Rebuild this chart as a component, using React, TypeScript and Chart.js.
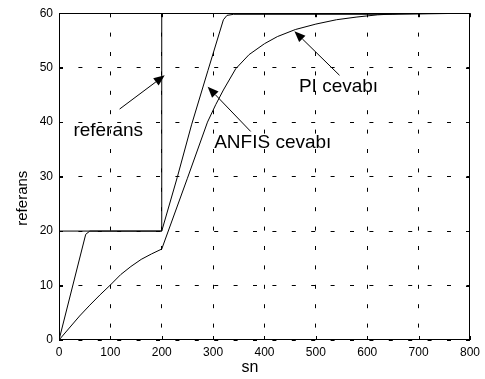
import { useEffect, useRef } from "react";
import { Chart, registerables } from "chart.js";

Chart.register(...registerables);

// ---- data ----
const refTime = [0, 200, 200, 800];
const refValue = [20, 20, 60, 60];

const anfisTime = [0, 52, 60, 200, 230, 258, 290, 320, 327, 340, 650, 800];
const anfisValue = [0, 19.4, 20, 20, 29.8, 39.5, 49.5, 58.8, 59.6, 59.8, 59.8, 60];

const piTime = [0, 20, 40, 60, 80, 100, 120, 140, 160, 180, 200, 250, 289, 305, 320, 344, 370, 400, 425, 460, 500, 540, 580, 620, 660, 800];
const piValue = [0, 2.2, 4.4, 6.4, 8.3, 10.1, 12.0, 13.5, 14.8, 15.8, 16.7, 29.7, 40, 43.2, 45.9, 49.8, 52.4, 54.4, 55.7, 57, 58, 58.8, 59.3, 59.7, 59.9, 60];

const xTicks = [0, 100, 200, 300, 400, 500, 600, 700, 800];
const yTicks = [0, 10, 20, 30, 40, 50, 60];

const xTitle = "sn";
const yTitle = "referans";

// annotations in data coordinates: text anchor (left, baseline), arrow tail -> head
const annLabels = ["referans", "ANFIS cevabı", "PI cevabı"];
const annTextX = [28, 302, 467];
const annTextY = [37.4, 35.3, 45.5];
const annTailX = [118, 373, 546];
const annTailY = [42.4, 38.3, 48.6];
const annHeadX = [205.8, 289.4, 458.3];
const annHeadY = [48.6, 46.5, 56.7];

const FONT = '"Liberation Sans", Arial, Helvetica, sans-serif';

const toXY = (xs: number[], ys: number[]) => xs.map((x, i) => ({ x, y: ys[i] }));

const decorPlugin = {
  id: "decor",
  afterDraw(chart: any) {
    const { ctx, chartArea: a, scales } = chart;
    const xs = scales.x;
    const ys = scales.y;
    ctx.save();
    // box
    ctx.strokeStyle = "#000";
    ctx.lineWidth = 1;
    ctx.setLineDash([]);
    ctx.strokeRect(Math.round(a.left) + 0.5, Math.round(a.top) + 0.5, Math.round(a.right - a.left) - 1, Math.round(a.bottom - a.top) - 1);
    // inward ticks
    const tl = 4;
    ctx.beginPath();
    xTicks.forEach((v) => {
      const px = Math.round(xs.getPixelForValue(v)) + 0.5;
      ctx.moveTo(px, a.bottom);
      ctx.lineTo(px, a.bottom - tl);
      ctx.moveTo(px, a.top);
      ctx.lineTo(px, a.top + tl);
    });
    yTicks.forEach((v) => {
      const py = Math.round(ys.getPixelForValue(v)) + 0.5;
      ctx.moveTo(a.left, py);
      ctx.lineTo(a.left + tl, py);
      ctx.moveTo(a.right, py);
      ctx.lineTo(a.right - tl, py);
    });
    ctx.stroke();

    // axis titles
    ctx.fillStyle = "#000";
    ctx.font = `16px ${FONT}`;
    ctx.textAlign = "center";
    ctx.textBaseline = "middle";
    ctx.fillText(xTitle, a.left + 191, a.bottom + 28);
    ctx.save();
    ctx.translate(a.left - 36.5, a.top + 185);
    ctx.rotate(-Math.PI / 2);
    ctx.font = `15px ${FONT}`;
    ctx.fillText(yTitle, 0, 0);
    ctx.restore();

    // annotations
    ctx.font = `19px ${FONT}`;
    ctx.textAlign = "left";
    ctx.textBaseline = "alphabetic";
    annLabels.forEach((label, i) => {
      const tx = xs.getPixelForValue(annTextX[i]);
      const ty = ys.getPixelForValue(annTextY[i]);
      ctx.fillText(label, tx, ty);
      const x0 = xs.getPixelForValue(annTailX[i]);
      const y0 = ys.getPixelForValue(annTailY[i]);
      const x1 = xs.getPixelForValue(annHeadX[i]);
      const y1 = ys.getPixelForValue(annHeadY[i]);
      const ang = Math.atan2(y1 - y0, x1 - x0);
      const hl = 11;
      const hw = 4.5;
      const bx = x1 - hl * Math.cos(ang);
      const by = y1 - hl * Math.sin(ang);
      ctx.beginPath();
      ctx.moveTo(x0, y0);
      ctx.lineTo(bx, by);
      ctx.stroke();
      ctx.beginPath();
      ctx.moveTo(x1, y1);
      ctx.lineTo(bx + hw * Math.sin(ang), by - hw * Math.cos(ang));
      ctx.lineTo(bx - hw * Math.sin(ang), by + hw * Math.cos(ang));
      ctx.closePath();
      ctx.fill();
    });
    ctx.restore();
  },
};

export default function App() {
  const canvasRef = useRef<HTMLCanvasElement | null>(null);

  useEffect(() => {
    if (!canvasRef.current) return;
    const lineStyle = {
      borderColor: "#000",
      borderWidth: 1,
      pointRadius: 0,
      tension: 0,
      fill: false,
    };
    const chart = new Chart(canvasRef.current, {
      type: "line",
      data: {
        datasets: [
          { label: "referans", data: toXY(refTime, refValue), ...lineStyle },
          { label: "ANFIS cevabı", data: toXY(anfisTime, anfisValue), ...lineStyle },
          { label: "PI cevabı", data: toXY(piTime, piValue), ...lineStyle },
        ],
      },
      options: {
        responsive: false,
        animation: false,
        devicePixelRatio: 1,
        layout: { padding: { top: 11, right: 10, left: 0, bottom: 0 } },
        plugins: { legend: { display: false }, tooltip: { enabled: false }, title: { display: false } },
        scales: {
          x: {
            type: "linear",
            min: 0,
            max: 800,
            afterFit: (s: any) => {
              s.height = 39;
            },
            afterBuildTicks: (s: any) => {
              s.ticks = xTicks.map((v) => ({ value: v }));
            },
            ticks: { color: "#000", font: { family: FONT, size: 12 }, padding: 5, maxRotation: 0, autoSkip: false },
            grid: { color: "#000", lineWidth: 1, drawTicks: false },
            border: { display: false, dash: [4, 15.4] },
          },
          y: {
            type: "linear",
            min: 0,
            max: 60,
            afterFit: (s: any) => {
              s.width = 59;
            },
            afterBuildTicks: (s: any) => {
              s.ticks = yTicks.map((v) => ({ value: v }));
            },
            ticks: { color: "#000", font: { family: FONT, size: 12 }, padding: 6, autoSkip: false },
            grid: { color: "#000", lineWidth: 1, drawTicks: false },
            border: { display: false, dash: [4, 15.4] },
          },
        },
      },
      plugins: [decorPlugin],
    } as any);
    return () => chart.destroy();
  }, []);

  return (
    <div style={{ position: "absolute", left: 0, top: 0, width: 485, height: 379, background: "#fff" }}>
      <canvas ref={canvasRef} width={485} height={379} style={{ width: 485, height: 379 }} />
    </div>
  );
}
